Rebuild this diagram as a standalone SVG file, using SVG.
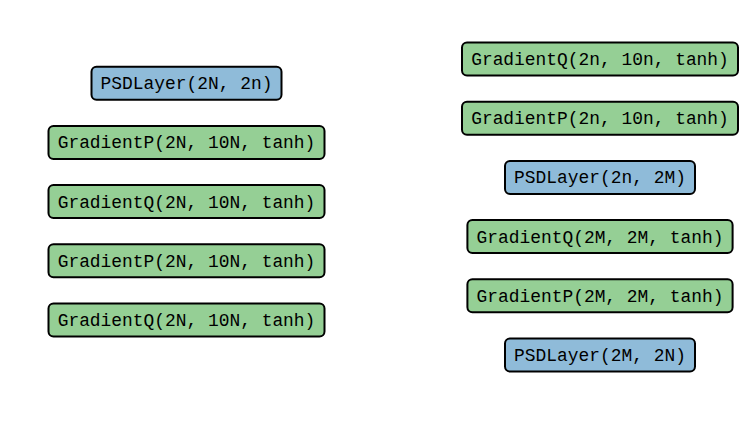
<svg xmlns="http://www.w3.org/2000/svg" width="748" height="431" viewBox="0 0 748 431">
<style>
.box{stroke:#000;stroke-width:2;}
.psd{fill:#8fbbd9;}
.grad{fill:#95cf95;}
text{font-family:"Liberation Mono","DejaVu Sans Mono",monospace;font-size:17.9px;text-anchor:middle;fill:#000;}
</style>
<rect width="748" height="431" fill="#fff"/>
<g id="connectors"></g>
<g id="L1"><rect class="box psd" x="91.5" y="66.7" width="190" height="33" rx="5"/><text x="186.5" y="89.2">PSDLayer(2N, 2n)</text></g>
<g id="L2"><rect class="box grad" x="48.5" y="125.9" width="276" height="33" rx="5"/><text x="186.5" y="148.4">GradientP(2N, 10N, tanh)</text></g>
<g id="L3"><rect class="box grad" x="48.5" y="185.1" width="276" height="33" rx="5"/><text x="186.5" y="207.6">GradientQ(2N, 10N, tanh)</text></g>
<g id="L4"><rect class="box grad" x="48.5" y="244.3" width="276" height="33" rx="5"/><text x="186.5" y="266.8">GradientP(2N, 10N, tanh)</text></g>
<g id="L5"><rect class="box grad" x="48.5" y="303.5" width="276" height="33" rx="5"/><text x="186.5" y="326">GradientQ(2N, 10N, tanh)</text></g>
<g id="R1"><rect class="box grad" x="462" y="42.5" width="276" height="33" rx="5"/><text x="600" y="65">GradientQ(2n, 10n, tanh)</text></g>
<g id="R2"><rect class="box grad" x="462" y="101.7" width="276" height="33" rx="5"/><text x="600" y="124.2">GradientP(2n, 10n, tanh)</text></g>
<g id="R3"><rect class="box psd" x="505" y="160.9" width="190" height="33" rx="5"/><text x="600" y="183.4">PSDLayer(2n, 2M)</text></g>
<g id="R4"><rect class="box grad" x="467.4" y="220.1" width="265.2" height="33" rx="5"/><text x="600" y="242.6">GradientQ(2M, 2M, tanh)</text></g>
<g id="R5"><rect class="box grad" x="467.4" y="279.3" width="265.2" height="33" rx="5"/><text x="600" y="301.8">GradientP(2M, 2M, tanh)</text></g>
<g id="R6"><rect class="box psd" x="505" y="338.5" width="190" height="33" rx="5"/><text x="600" y="361">PSDLayer(2M, 2N)</text></g>
</svg>
